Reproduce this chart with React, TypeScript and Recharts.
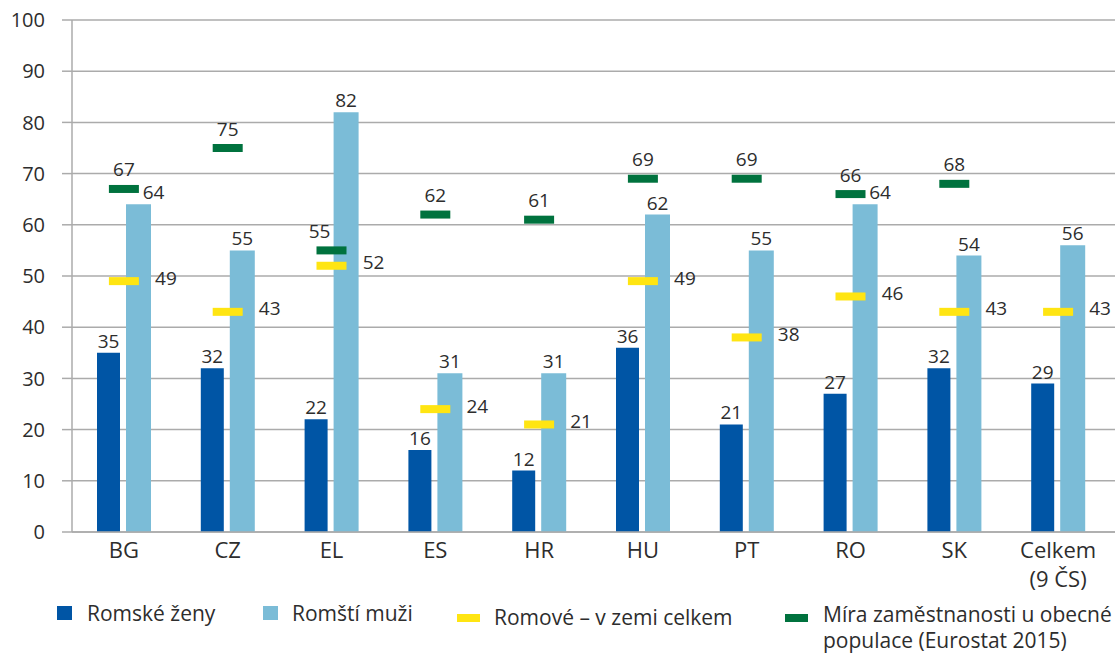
import React from 'react';
import {
  ComposedChart,
  Bar,
  Line,
  XAxis,
  YAxis,
  CartesianGrid,
  Legend,
  LabelList,
} from 'recharts';

const categories = ['BG', 'CZ', 'EL', 'ES', 'HR', 'HU', 'PT', 'RO', 'SK', 'Celkem (9 ČS)'];
const romaWomen = [35, 32, 22, 16, 12, 36, 21, 27, 32, 29];
const romaMen = [64, 55, 82, 31, 31, 62, 55, 64, 54, 56];
const romaTotal = [49, 43, 52, 24, 21, 49, 38, 46, 43, 43];
const generalPopulation: (number | null)[] = [67, 75, 55, 62, 61, 69, 69, 66, 68, null];
const yTicks = [0, 10, 20, 30, 40, 50, 60, 70, 80, 90, 100];

const nameWomen = 'Romské ženy';
const nameMen = 'Romští muži';
const nameTotal = 'Romové – v zemi celkem';
const nameGeneral1 = 'Míra zaměstnanosti u obecné';
const nameGeneral2 = 'populace (Eurostat 2015)';

const data = categories.map((c, i) => ({
  category: c,
  women: romaWomen[i],
  men: romaMen[i],
  total: romaTotal[i],
  general: generalPopulation[i],
}));

const DARK = '#0055A5';
const LIGHT = '#7BBCD7';
const YELLOW = '#FFE512';
const GREEN = '#00723E';
const TEXT = '#2d2d2d';
const GRID = '#ABABAB';
const FONT = '"Open Sans", sans-serif';

const markerDot = (color: string, prefix: string) => (props: any) => {
  const { cx, cy, index, value } = props;
  if (value == null || cy == null || isNaN(cy)) return <g key={`${prefix}-${index}`} />;
  return (
    <rect
      key={`${prefix}-${index}`}
      x={cx - 15}
      y={cy - 4}
      width={30}
      height={8}
      fill={color}
    />
  );
};

const barLabel = (kind: 'women' | 'men') => (props: any) => {
  const { x, y, width, value, index } = props;
  if (value == null) return null;
  let dx = 0;
  if (kind === 'men') {
    const g = generalPopulation[index];
    if (g != null && g >= value && g - value <= 6) dx = 15;
  }
  return (
    <text
      x={x + width / 2 + dx}
      y={y - 5}
      textAnchor="middle"
      fontSize={19}
      fill={TEXT}
      fontFamily={FONT}
    >
      {value}
    </text>
  );
};

const totalLabel = (props: any) => {
  const { x, y, value } = props;
  if (value == null || y == null) return null;
  return (
    <text x={x + 42} y={y + 3.5} textAnchor="middle" fontSize={19} fill={TEXT} fontFamily={FONT}>
      {value}
    </text>
  );
};

const generalLabel = (props: any) => {
  const { x, y, value, index } = props;
  if (value == null || y == null || isNaN(y)) return null;
  const dx = romaMen[index] > value ? -12 : 0;
  return (
    <text x={x + dx} y={y - 12.5} textAnchor="middle" fontSize={19} fill={TEXT} fontFamily={FONT}>
      {value}
    </text>
  );
};

const XTick = (props: any) => {
  const { x, y, payload } = props;
  const v = String(payload.value);
  const idx = v.indexOf(' (');
  const lines = idx >= 0 ? [v.slice(0, idx), v.slice(idx + 1)] : [v];
  return (
    <g>
      {lines.map((l, i) => (
        <text
          key={i}
          x={x}
          y={y + 26 + i * 29}
          textAnchor="middle"
          fontSize={22}
          fill={TEXT}
          fontFamily={FONT}
        >
          {l}
        </text>
      ))}
    </g>
  );
};

const renderLegend = () => {
  const txt: React.CSSProperties = {
    position: 'absolute',
    lineHeight: '28px',
    fontSize: 21,
    color: TEXT,
    fontFamily: FONT,
    whiteSpace: 'nowrap',
  };
  return (
    <div style={{ position: 'relative', width: 1107, height: 62 }}>
      <div style={{ position: 'absolute', left: 49, top: 14, width: 15, height: 14, background: DARK }} />
      <div style={{ ...txt, left: 79, top: 7 }}>{nameWomen}</div>
      <div style={{ position: 'absolute', left: 255, top: 14, width: 15, height: 14, background: LIGHT }} />
      <div style={{ ...txt, left: 284, top: 7 }}>{nameMen}</div>
      <div style={{ position: 'absolute', left: 449, top: 22, width: 23, height: 8, background: YELLOW }} />
      <div style={{ ...txt, left: 486, top: 11 }}>{nameTotal}</div>
      <div style={{ position: 'absolute', left: 777, top: 22, width: 23, height: 8, background: GREEN }} />
      <div style={{ ...txt, left: 815, top: 9, lineHeight: '26px' }}>
        {nameGeneral1}
        <br />
        {nameGeneral2}
      </div>
    </div>
  );
};

export default function App() {
  return (
    <div
      style={{
        position: 'absolute',
        left: 8,
        top: 0,
        width: 1107,
        height: 654,
        overflow: 'hidden',
        fontFamily: FONT,
      }}
    >
      <ComposedChart
        width={1107}
        height={654}
        data={data}
        margin={{ top: 20, right: 0, bottom: 0, left: 0 }}
        barGap={6}
        style={{ fontFamily: FONT }}
      >
        <CartesianGrid vertical={false} stroke={GRID} strokeWidth={1.5} />
        <XAxis
          dataKey="category"
          axisLine={{ stroke: GRID, strokeWidth: 1.5 }}
          tickLine={false}
          tickSize={0}
          tickMargin={0}
          height={60}
          interval={0}
          padding={{ left: 0, right: 5 }}
          tick={<XTick />}
        />
        <YAxis
          domain={[0, 100]}
          ticks={yTicks}
          interval={0}
          width={64}
          tickSize={10}
          tickMargin={17}
          axisLine={{ stroke: GRID, strokeWidth: 1.5 }}
          tickLine={{ stroke: GRID, strokeWidth: 1.5 }}
          tick={{ fontSize: 20, fill: TEXT, fontFamily: FONT }}
        />
        <Legend verticalAlign="bottom" align="left" content={renderLegend} />
        <Bar dataKey="women" name={nameWomen} fill={DARK} barSize={23} isAnimationActive={false}>
          <LabelList dataKey="women" content={barLabel('women')} />
        </Bar>
        <Bar dataKey="men" name={nameMen} fill={LIGHT} barSize={25} isAnimationActive={false}>
          <LabelList dataKey="men" content={barLabel('men')} />
        </Bar>
        <Line
          dataKey="total"
          name={nameTotal}
          stroke="none"
          dot={markerDot(YELLOW, 'y')}
          activeDot={false}
          isAnimationActive={false}
        >
          <LabelList dataKey="total" content={totalLabel} />
        </Line>
        <Line
          dataKey="general"
          name={`${nameGeneral1} ${nameGeneral2}`}
          stroke="none"
          dot={markerDot(GREEN, 'g')}
          activeDot={false}
          isAnimationActive={false}
        >
          <LabelList dataKey="general" content={generalLabel} />
        </Line>
      </ComposedChart>
    </div>
  );
}
